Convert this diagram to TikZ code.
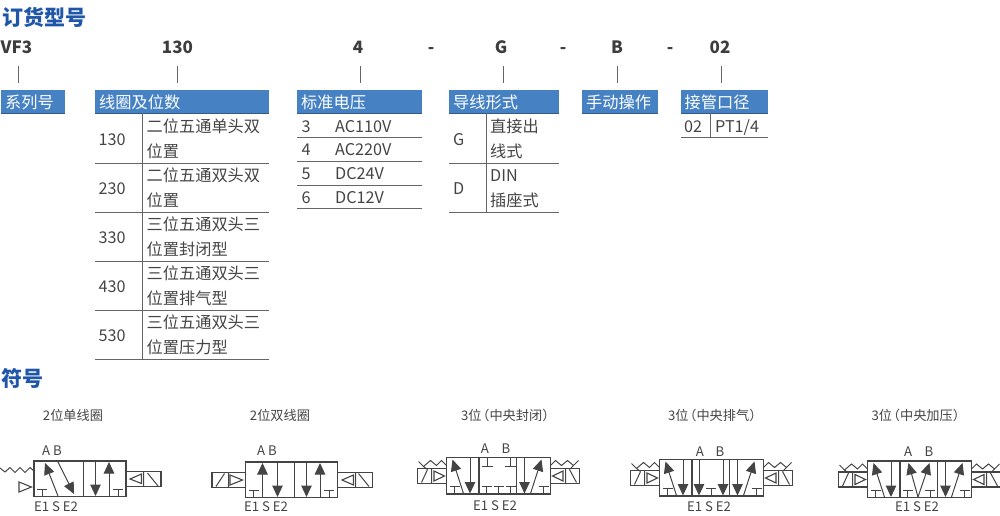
\documentclass[tikz,border=0pt]{standalone}
\usepackage{fontspec}
\setmainfont{Noto Sans CJK SC}
\usetikzlibrary{arrows.meta}
\definecolor{hdr}{HTML}{4682C3}
\definecolor{ttl}{HTML}{1F56A8}
\definecolor{txt}{HTML}{444444}
\definecolor{rl}{HTML}{666666}
\definecolor{sym}{HTML}{444444}
\tikzset{
 ttlnode/.style={anchor=base west,inner sep=0pt,text=ttl,font=\fontsize{21}{21}\selectfont\bfseries},
 codenode/.style={anchor=base,inner sep=0pt,text=txt!90!black,font=\fontsize{17}{17}\selectfont\bfseries},
 cellnode/.style={anchor=base west,inner sep=0pt,text=txt,font=\fontsize{16.2}{16}\selectfont},
 capnode/.style={anchor=base,inner sep=0pt,text=txt,font=\fontsize{13.2}{13}\selectfont},
 tblrule/.style={draw=rl,line width=1pt},
 tickline/.style={draw=rl,line width=1pt},
 ln/.style={draw=sym,line width=1pt},
 boxline/.style={draw=sym,line width=1.3pt,line join=miter},
 arr/.style={draw=sym,line width=1pt,-{Triangle[length=11.5pt,width=10.5pt,fill=sym]}},
 tri/.style={draw=sym,line width=1.1pt,fill=white,line join=miter},
}
\newcommand{\hdbox}[4]{%
 \path[fill=hdr] (#2,90) rectangle (#3,113.5);
 \draw[draw=hdr!70!black,line width=.6pt] (#2,113.5) -- (#3,113.5);
 \node[anchor=base west,inner sep=0pt,text=white,font=\fontsize{16.2}{16}\selectfont] (#1) at (#2+4,108.5) {#4};}
\newcommand{\TT}[2]{\draw[ln] (#1,#2) -- ++(0,-7) (#1-5,#2-7) -- ++(10,0);}
\newcommand{\TD}[2]{\draw[ln] (#1,#2) -- ++(0,9) (#1-5.5,#2+9) -- ++(11,0);}
\newcommand{\solL}{%
 \draw[boxline] (-29,11) rectangle (0,26);
 \draw[ln] (-15,11) -- (-15,26) (-25,25) -- (-19,12);
 \draw[tri] (-12.5,13.5) -- (0-2,18.5) -- (-12.5,23.5) -- cycle;}
\newcommand{\solR}{%
 \draw[boxline] (0,11) rectangle (29,26);
 \draw[ln] (15,11) -- (15,26) (19,12) -- (26,25);
 \draw[tri] (12.5,13.5) -- (2,18.5) -- (12.5,23.5) -- cycle;}
\newcommand{\springs}{%
 \draw[ln,line join=miter] (-28,4) -- (-23,9) -- (-16,3) -- (-10,8) -- (-5,3) -- (0,8);
 \draw[ln] (-23,9) -- (-19,12);
 \draw[ln,line join=miter] (104,8) -- (109,3) -- (115,8) -- (121,3) -- (127,8) -- (132,3);
 \draw[ln] (127,8) -- (123,12);}
\newcommand{\threebase}{%
 \draw[boxline] (0,0) rectangle (104,36.5);
 \draw[boxline] (32.5,0) -- (32.5,36.5) (70,0) -- (70,36.5);
 \springs
 \solL
 \begin{scope}[shift={(104,0)}]\solR\end{scope}
 \draw[arr] (17,36) -- (6,2);
 \draw[arr] (23.5,0) -- (23.5,36);
 \TT{8}{36}
 \draw[arr] (78,0) -- (78,36);
 \draw[arr] (84,36) -- (95,2);
 \TT{97}{36}}
\newcommand{\threecap}[1]{3位\kern-.4em（#1）\kern-.5em}
\begin{document}
\begin{tikzpicture}[x=1pt,y=-1pt]
\useasboundingbox (0,0) rectangle (1000,516);
\node[ttlnode] (t1) at (2,25.5) {订货型号};
\node[ttlnode] (t2) at (1,386) {符号};
\node[codenode] (c1) at (16.5,54) {VF3};
\node[codenode] (c2) at (177.5,54) {130};
\node[codenode] (c3) at (358,54) {4};
\node[codenode] (c4) at (431,54) {-};
\node[codenode] (c5) at (501,54) {G};
\node[codenode] (c6) at (563,54) {-};
\node[codenode] (c7) at (617,54) {B};
\node[codenode] (c8) at (670,54) {-};
\node[codenode] (c9) at (720,54) {02};
\foreach \n/\x in {a/18.5,b/177.5,c/360,d/503.5,e/617,f/721}{
 \coordinate (top\n) at (\x,66.5);
 \coordinate (bot\n) at (\x,83.5);
 \draw[tickline] (top\n) -- (bot\n);
}
\hdbox{h1}{1}{65}{系列号}
\hdbox{h2}{95}{269}{线圈及位数}
\hdbox{h3}{297}{421.5}{标准电压}
\hdbox{h4}{449}{558.5}{导线形式}
\hdbox{h5}{582}{657.5}{手动操作}
\hdbox{h6}{680.5}{768}{接管口径}
\draw[tblrule] (142.5,113.5) -- (142.5,359);
\foreach \y in {163,212,261,310,359}{\draw[tblrule] (95,\y) -- (269,\y);}
\foreach \n/\a/\b/\y in {130/二位五通单头双/位置/0,230/二位五通双头双/位置/49,330/三位五通双头三/位置封闭型/98,430/三位五通双头三/位置排气型/147,530/三位五通双头三/位置压力型/196}{
 \node[cellnode] (n\n) at (98.5,145+\y) {\n};
 \node[cellnode] (a\n) at (146.5,132+\y) {\a};
 \node[cellnode] (b\n) at (146.5,157+\y) {\b};
}
\foreach \k/\v/\y in {3/AC110V/132,4/AC220V/155.5,5/DC24V/179.5,6/DC12V/203}{
 \node[cellnode] (k\k) at (301.5,\y) {\k};
 \node[cellnode] (v\k) at (335,\y) {\v};
}
\foreach \y in {137,161,185,208.5}{\draw[tblrule] (297,\y) -- (421.5,\y);}
\draw[tblrule] (486,113.5) -- (486,212);
\draw[tblrule] (449,163) -- (558.5,163);
\draw[tblrule] (449,212) -- (558.5,212);
\node[cellnode] (g) at (453,145) {G};
\node[cellnode] (g1) at (490,132) {直接出};
\node[cellnode] (g2) at (490,157) {线式};
\node[cellnode] (d) at (453,194) {D};
\node[cellnode] (d1) at (490,181) {DIN};
\node[cellnode] (d2) at (490,206) {插座式};
\draw[tblrule] (710.5,113.5) -- (710.5,137);
\draw[tblrule] (680.5,137) -- (768,137);
\node[cellnode] (p1) at (684,132) {02};
\node[cellnode] (p2) at (715,132) {PT1/4};
\node[capnode] (s1) at (73,420) {2位单线圈};
\node[capnode] (s2) at (280,420) {2位双线圈};
\node[capnode] (s3) at (505,420) {\threecap{中央封闭}};
\node[capnode] (s4) at (712,420) {\threecap{中央排气}};
\node[capnode] (s5) at (915.5,420) {\threecap{中央加压}};
\begin{scope}[shift={(34,461)}]
 \draw[boxline] (0,0) rectangle (92,35.5);
 \draw[boxline] (49.5,0) -- (49.5,35.5);
 \draw[arr] (24,35) -- (11,2);
 \draw[arr] (23.5,0) -- (40,33);
 \draw[arr] (61.5,0) -- (61.5,35);
 \draw[arr] (75,35) -- (75,1);
 \TT{8}{35}
 \TT{84}{35}
 \draw[ln,line join=miter] (-34,7) -- (-29,11) -- (-24,6.5) -- (-19,11.5) -- (-14,6.5) -- (-9,11.5) -- (-4,6.5) -- (0,10);
 \draw[tri] (-15,21) -- (-2.5,26) -- (-15,31) -- cycle;
 \begin{scope}[shift={(92,0)}]
  \draw[boxline] (0,10.5) rectangle (35,25.5);
  \draw[ln] (17.5,10.5) -- (17.5,25.5) (21.5,12) -- (32,25);
  \draw[tri] (15.5,13) -- (4,18) -- (15.5,22.5) -- cycle;
 \end{scope}
\end{scope}
\node[capnode] (a1) at (52,455.5) {A B};
\node[capnode] (e1) at (56,511.5) {E1 S E2};
\begin{scope}[shift={(245.5,462)}]
 \draw[boxline] (0,0) rectangle (92,35.5);
 \draw[boxline] (49,0) -- (49,35.5);
 \draw[arr] (17,35) -- (17,1);
 \draw[arr] (32,0) -- (32,35);
 \draw[arr] (61,0) -- (61,35);
 \draw[arr] (74.5,35) -- (74.5,1);
 \TT{8}{35}
 \TT{83.5}{35}
 \begin{scope}[shift={(0,-0.5)}]
 \draw[boxline] (-33.5,11) rectangle (0,26);
 \draw[ln] (-17,11) -- (-17,26) (-29.5,25) -- (-21,12);
 \draw[tri] (-15.5,13.5) -- (-3,18.5) -- (-15.5,23.5) -- cycle;
 \end{scope}
 \begin{scope}[shift={(92,-0.5)}]
 \draw[boxline] (0,11) rectangle (35,26);
 \draw[ln] (18,11) -- (18,26) (21,12) -- (31.5,25);
 \draw[tri] (16,13.5) -- (4.5,18.5) -- (16,23.5) -- cycle;
 \end{scope}
\end{scope}
\node[capnode] (a2) at (267,455.5) {A B};
\node[capnode] (e2) at (266,511.5) {E1 S E2};
\begin{scope}[shift={(446.5,457.5)}]
 \threebase
 \TD{40.5}{0}
 \TD{64}{0}
 \TT{40}{36}
 \TT{52}{36}
 \TT{64}{36}
\end{scope}
\node[capnode] (a3) at (485,453) {A};
\node[capnode] (b3) at (506,453) {B};
\node[capnode] (e3) at (495,510) {E1 S E2};
\begin{scope}[shift={(659.5,459.5)}]
 \threebase
 \draw[arr] (39.5,0) -- (39.5,36);
 \draw[arr] (63.5,0) -- (63.5,36);
 \TT{51.5}{36}
\end{scope}
\node[capnode] (a4) at (700,456) {A};
\node[capnode] (b4) at (720,456) {B};
\node[capnode] (e4) at (709,511.5) {E1 S E2};
\begin{scope}[shift={(867.5,461)}]
 \threebase
 \draw[arr] (50.5,36) -- (41,2);
 \draw[arr] (50.5,36) -- (62,2);
 \TT{40}{36}
 \TT{62.5}{36}
\end{scope}
\node[capnode] (a5) at (908,456) {A};
\node[capnode] (b5) at (929,456) {B};
\node[capnode] (e5) at (917,511.5) {E1 S E2};
\end{tikzpicture}
\end{document}
